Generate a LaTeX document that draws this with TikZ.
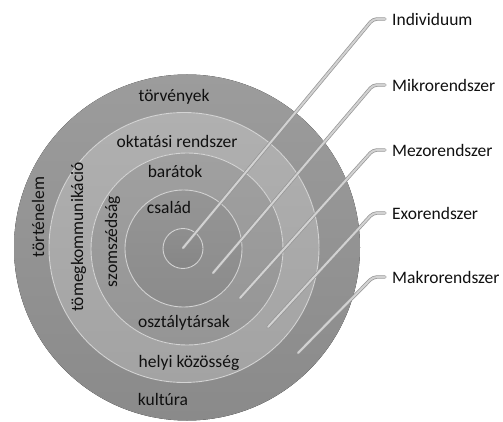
\documentclass[tikz,border=0pt]{standalone}
\usepackage{fontspec}
\setmainfont{Carlito}
\definecolor{txtcol}{HTML}{101010}
\definecolor{ringline}{HTML}{D4D4D4}
\definecolor{leaderedge}{HTML}{959595}
\definecolor{leadercore}{HTML}{D2D2D2}
\definecolor{makroT}{HTML}{9C9C9C}\definecolor{makroB}{HTML}{8A8A8A}
\definecolor{exoT}{HTML}{B0B0B0}\definecolor{exoB}{HTML}{A3A3A3}
\definecolor{mezoT}{HTML}{A0A0A0}\definecolor{mezoB}{HTML}{959595}
\definecolor{mikroT}{HTML}{959595}\definecolor{mikroB}{HTML}{8B8B8B}
\definecolor{indT}{HTML}{8F8F8F}\definecolor{indB}{HTML}{868686}
\begin{document}
\begin{tikzpicture}[x=1pt,y=-1pt,
  ringfill/.style 2 args={top color=#1, bottom color=#2},
  ringedge/.style={draw=ringline, line width=0.9pt},
  txt/.style={anchor=base, inner sep=0pt, text=txtcol, font=\fontsize{17.5}{21}\selectfont},
  vtxt/.style={txt, rotate=90},
  lab/.style={anchor=west, inner xsep=7pt, inner ysep=0pt, text height=12.2pt,
    text depth=0pt, text=txtcol, font=\fontsize{17.5}{21}\selectfont},
  leader/.style={draw=leaderedge, line width=3.4pt, rounded corners=4pt, line cap=round,
    postaction={draw=leadercore, line width=2pt}}
]
\useasboundingbox (0,0) rectangle (503,422);
\fill[white] (0,0) rectangle (503,422);

% nested systems, outermost first
\fill[ringfill={makroT}{makroB}] (187,247.5) circle (173);
\fill[ringfill={exoT}{exoB}] (184,247.5) circle (135);
\draw[ringedge] (184,247.5) circle (135);
\fill[ringfill={mezoT}{mezoB}] (187,249) circle (96);
\draw[ringedge] (187,249) circle (96);
\fill[ringfill={mikroT}{mikroB}] (183.5,248.5) circle (58.5);
\draw[ringedge] (183.5,248.5) circle (58.5);
\fill[ringfill={indT}{indB}] (183,248.5) circle (20);
\draw[ringedge] (183,248.5) circle (20);

% ring contents
\node[txt] (torv) at (174,102) {törvények};
\node[txt] (okt) at (177,148) {oktatási rendszer};
\node[txt] (bar) at (175,178) {barátok};
\node[txt] (csal) at (169,213) {család};
\node[txt] (oszt) at (184,327) {osztálytársak};
\node[txt] (helyi) at (189,367) {helyi közösség};
\node[txt] (kult) at (163,405) {kultúra};
\node[vtxt] (tort) at (44,217) {történelem};
\node[vtxt] (tomeg) at (83,237) {tömegkommunikáció};
\node[vtxt] (szom) at (117,241.5) {szomszédság};

% level labels
\node[lab] (l1) at (385,19) {Individuum};
\node[lab] (l2) at (385,85) {Mikrorendszer};
\node[lab] (l3) at (385,150) {Mezorendszer};
\node[lab] (l4) at (385,213) {Exorendszer};
\node[lab] (l5) at (385,277) {Makrorendszer};

% leader start points and bends
\coordinate (s1) at (183,248);
\coordinate (s2) at (213,273);
\coordinate (s3) at (240,298);
\coordinate (s4) at (268,327);
\coordinate (s5) at (298,353);
\coordinate (k1) at (373,19);
\coordinate (k2) at (373,85);
\coordinate (k3) at (373,150);
\coordinate (k4) at (373,213);
\coordinate (k5) at (373,277);

\path[leader] (s1) -- (k1) -- (l1.west);
\path[leader] (s2) -- (k2) -- (l2.west);
\path[leader] (s3) -- (k3) -- (l3.west);
\path[leader] (s4) -- (k4) -- (l4.west);
\path[leader] (s5) -- (k5) -- (l5.west);
\end{tikzpicture}
\end{document}
